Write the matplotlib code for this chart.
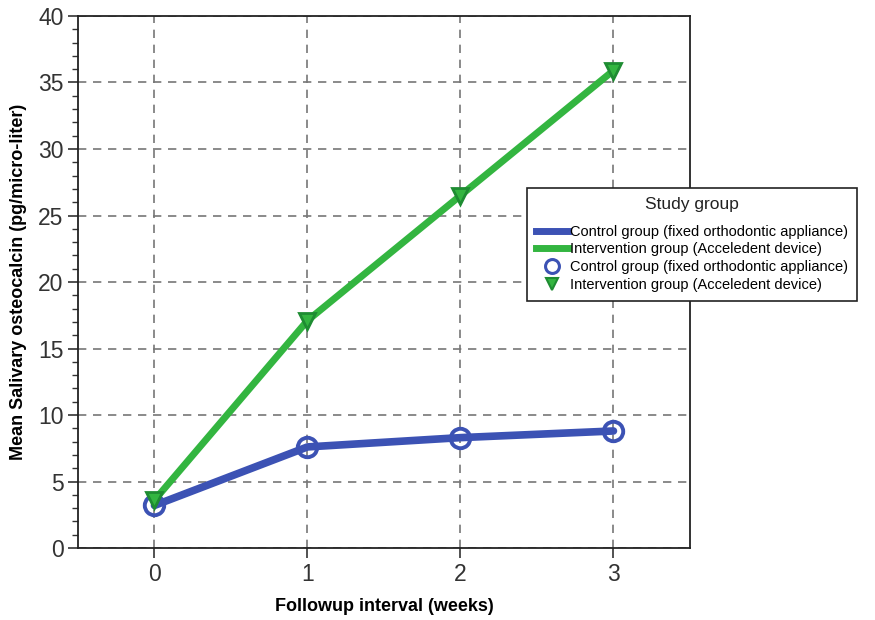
import matplotlib
matplotlib.use("Agg")
import matplotlib.pyplot as plt
from matplotlib.lines import Line2D
from matplotlib.ticker import MultipleLocator

plt.rcParams['font.family'] = ['Liberation Sans', 'DejaVu Sans']

weeks = [0, 1, 2, 3]
control = [3.2, 7.6, 8.3, 8.8]
intervention = [3.6, 17.1, 26.5, 35.9]
ctrl_label = "Control group (fixed orthodontic appliance)"
int_label = "Intervention group (Acceledent device)"

blue = "#3c52b4"
green = "#33b540"
dgreen = "#1e8c32"

fig = plt.figure(figsize=(8.75, 6.2), dpi=100)
ax = fig.add_axes([0.0891, 0.1161, 0.6994, 0.8581])

ax.plot(weeks, intervention, color=green, lw=5, zorder=3, solid_capstyle='round')
ax.plot(weeks, control, color=blue, lw=5.5, zorder=4, solid_capstyle='round')
ax.plot(weeks, control, ls='none', marker='o', ms=14, mfc='none', mec=blue, mew=2.8, zorder=5)
ax.plot(weeks, intervention, ls='none', marker='v', ms=12, mfc=green, mec=dgreen, mew=2, zorder=6)

ax.set_xlim(-0.5, 3.5)
ax.set_ylim(0, 40)
ax.set_xticks(weeks)
ax.yaxis.set_major_locator(MultipleLocator(5))
ax.yaxis.set_minor_locator(MultipleLocator(1))
ax.tick_params(axis='both', which='major', labelsize=16.5, labelcolor='#333333', length=7, width=1.2, color='#333333')
ax.tick_params(axis='y', which='minor', length=4, width=1, color='#333333')
ax.grid(True, which='major', ls=(0, (5, 4)), color='#777777', lw=1.2)
for s in ax.spines.values():
    s.set_color('#222222')
    s.set_linewidth(1.3)

ax.set_xlabel("Followup interval (weeks)", fontsize=13, fontweight='bold', labelpad=9)
ax.set_ylabel("Mean Salivary osteocalcin (pg/micro-liter)", fontsize=13, fontweight='bold', labelpad=8)

handles = [
    Line2D([], [], color=blue, lw=5),
    Line2D([], [], color=green, lw=5),
    Line2D([], [], ls='none', marker='o', ms=10, mfc='none', mec=blue, mew=2.2),
    Line2D([], [], ls='none', marker='v', ms=9, mfc=green, mec=dgreen, mew=1.5),
]
labels = [ctrl_label, int_label, ctrl_label, int_label]
leg = fig.legend(handles, labels, title="Study group", loc='upper left',
                 bbox_to_anchor=(0.602, 0.697), borderaxespad=0,
                 fontsize=10.5, title_fontsize=12.5,
                 frameon=True, fancybox=False, edgecolor='#222222', framealpha=1,
                 handlelength=2.2, handletextpad=0.1, labelspacing=0.25,
                 borderpad=0.65)
leg.get_title().set_color('#222222')
leg._legend_box.sep = 9
leg.get_frame().set_linewidth(1.2)
leg.set_zorder(10)

fig.savefig("out.png", dpi=100)
